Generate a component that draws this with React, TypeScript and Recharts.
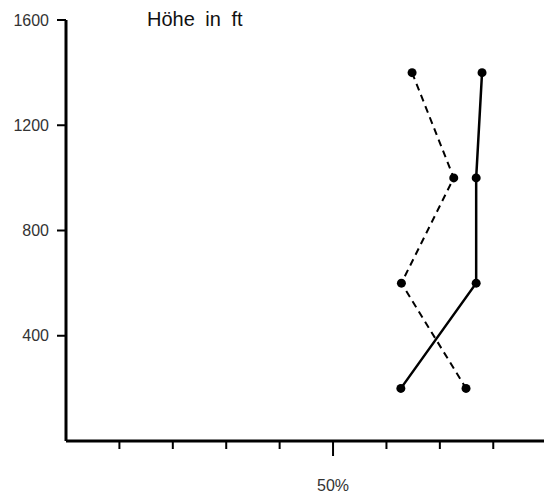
import { LineChart, Line, XAxis, YAxis } from 'recharts';

// Höhe (ft) und Anteil (%) der beiden Messreihen
const heights = [1400, 1000, 600, 200];
const dashedPct = [64.8, 72.6, 62.8, 74.9];
const solidPct = [77.9, 76.8, 76.8, 62.7];
const yTicks = [400, 800, 1200, 1600];
const xTicks = [10, 20, 30, 40, 50, 60, 70, 80];

const data = heights.map((ft, i) => ({ ft, dashed: dashedPct[i], solid: solidPct[i] }));

const font = '"Liberation Sans", Arial, sans-serif';

function XTick(props: any) {
  const { x, y, payload } = props;
  const big = payload.value === 50;
  return (
    <g>
      <line x1={x} y1={y} x2={x} y2={y + (big ? 15 : 8)} stroke="#000" strokeWidth={2} />
      {big && (
        <text x={x} y={y + 50} textAnchor="middle" fontSize={16} fontFamily={font} fill="#333">
          50%
        </text>
      )}
    </g>
  );
}

export default function App() {
  return (
    <div style={{ position: 'absolute', left: 0, top: 0, background: '#fff' }}>
      <LineChart
        width={544}
        height={497}
        data={data}
        layout="vertical"
        margin={{ top: 20, right: 0, bottom: 0, left: 6 }}
      >
        <XAxis
          type="number"
          domain={[0, 89.5]}
          ticks={xTicks}
          tick={<XTick />}
          tickLine={false}
          tickSize={0}
          tickMargin={0}
          axisLine={{ stroke: '#000', strokeWidth: 3 }}
          height={56}
        />
        <YAxis
          type="number"
          dataKey="ft"
          domain={[0, 1600]}
          reversed
          ticks={yTicks}
          width={60}
          tickSize={9}
          tickMargin={8}
          tickLine={{ stroke: '#000', strokeWidth: 2 }}
          axisLine={{ stroke: '#000', strokeWidth: 3 }}
          tick={{ fontSize: 16, fontFamily: font, fill: '#333' }}
        />
        <Line
          dataKey="dashed"
          stroke="#000"
          strokeWidth={2}
          strokeDasharray="7 5"
          dot={{ r: 4.5, fill: '#000', stroke: '#000', strokeWidth: 0 }}
          isAnimationActive={false}
        />
        <Line
          dataKey="solid"
          stroke="#000"
          strokeWidth={2.5}
          dot={{ r: 4.5, fill: '#000', stroke: '#000', strokeWidth: 0 }}
          isAnimationActive={false}
        />
        <text x={147} y={26} fontSize={20} fontFamily={font} fill="#111" style={{ wordSpacing: 5 }}>
          Höhe in ft
        </text>
      </LineChart>
    </div>
  );
}
